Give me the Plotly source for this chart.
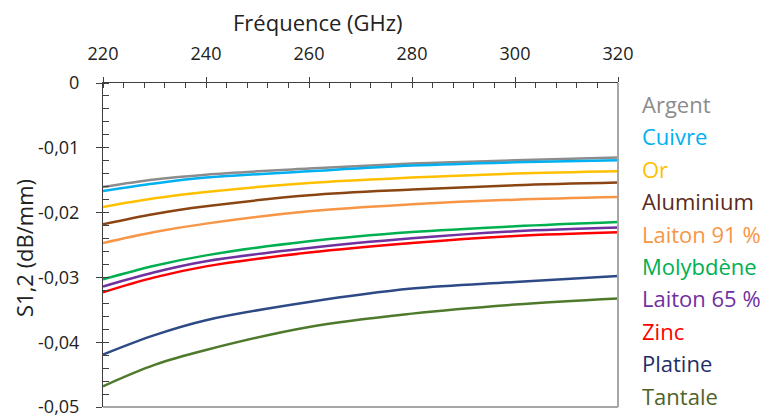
import plotly.graph_objects as go

# ---- data ----
freq = [220, 230, 240, 260, 280, 300, 320]

argent = [-0.01605, -0.01490, -0.01414, -0.01321, -0.01244, -0.01193, -0.01151]
cuivre = [-0.01667, -0.01550, -0.01460, -0.01363, -0.01275, -0.01224, -0.01193]
or_ = [-0.01914, -0.01780, -0.01682, -0.01543, -0.01460, -0.01398, -0.01363]
aluminium = [-0.02180, -0.02020, -0.01903, -0.01733, -0.01645, -0.01579, -0.01537]
laiton91 = [-0.02470, -0.02300, -0.02170, -0.01980, -0.01872, -0.01800, -0.01759]
molybdene = [-0.03030, -0.02820, -0.02660, -0.02443, -0.02300, -0.02211, -0.02145]
laiton65 = [-0.03140, -0.02920, -0.02750, -0.02546, -0.02397, -0.02289, -0.02231]
zinc = [-0.03230, -0.03000, -0.02830, -0.02617, -0.02469, -0.02361, -0.02304]
platine = [-0.04190, -0.03890, -0.03660, -0.03380, -0.03173, -0.03071, -0.02978]
tantale = [-0.04680, -0.04350, -0.04120, -0.03765, -0.03559, -0.03420, -0.03327]

names = ["Argent", "Cuivre", "Or", "Aluminium", "Laiton 91 %", "Molybdène",
         "Laiton 65 %", "Zinc", "Platine", "Tantale"]
series = [argent, cuivre, or_, aluminium, laiton91, molybdene, laiton65,
          zinc, platine, tantale]
line_colors = ["#8C8C8C", "#00B0F0", "#FFC000", "#8B4513", "#F79646",
               "#00B050", "#7030A0", "#FF0000", "#2E4A86", "#4F7A2C"]
text_colors = ["#8C8C8C", "#00B0F0", "#FFC000", "#5B2A1A", "#F79646",
               "#00B050", "#7030A0", "#FF0000", "#1F2F66", "#4F6228"]

x_ticks = [220, 240, 260, 280, 300, 320]
y_ticks = [0, -0.01, -0.02, -0.03, -0.04, -0.05]
y_ticktext = ["0", "-0,01", "-0,02", "-0,03", "-0,04", "-0,05"]

x_title = "Fréquence (GHz)"
y_title = "S1,2 (dB/mm)"

FONT = "Open Sans"
AX = "#404040"

# ---- figure geometry (pixels) ----
W, H = 766, 416
L, R, T, B = 103, 148, 83, 9
pw, ph = W - L - R, H - T - B

fig = go.Figure()
for name, ys, col in zip(names, series, line_colors):
    fig.add_trace(go.Scatter(x=freq, y=ys, mode="lines", name=name,
                             line=dict(color=col, width=2.5, shape="spline",
                                       smoothing=1.0),
                             showlegend=False, hoverinfo="x+y+name"))
# helper trace so the overlay axes (inside major ticks) exist
fig.add_trace(go.Scatter(x=[], y=[], xaxis="x2", yaxis="y2", showlegend=False,
                         hoverinfo="skip"))

common = dict(showgrid=False, zeroline=False, automargin=False)
fig.update_layout(
    width=W, height=H,
    margin=dict(l=L, r=R, t=T, b=B),
    paper_bgcolor="white", plot_bgcolor="white",
    font=dict(family=FONT, color=AX),
    xaxis=dict(range=[220, 320], side="top", tickvals=x_ticks,
               ticks="outside", ticklen=5, tickwidth=1, tickcolor=AX,
               showline=True, linecolor=AX, linewidth=1,
               minor=dict(dtick=4, tick0=220, ticks="inside", ticklen=5,
                          tickwidth=1, tickcolor=AX),
               tickfont=dict(size=18, color="#222222", family=FONT),
               ticklabelstandoff=10, ticklabeloverflow="allow", **common),
    yaxis=dict(range=[-0.05, 0], tickvals=y_ticks, ticktext=y_ticktext,
               ticks="outside", ticklen=6, tickwidth=1, tickcolor=AX,
               showline=True, linecolor=AX, linewidth=1,
               minor=dict(dtick=0.002, tick0=0, ticks="inside", ticklen=6,
                          tickwidth=1, tickcolor=AX),
               tickfont=dict(size=18, color="#222222", family=FONT),
               ticklabelstandoff=13, ticklabeloverflow="allow", **common),
    xaxis2=dict(range=[220, 320], overlaying="x", side="top", anchor="y2",
                tickvals=x_ticks, ticks="inside", ticklen=5, tickwidth=1,
                tickcolor=AX, showticklabels=False, showline=False, **common),
    yaxis2=dict(range=[-0.05, 0], overlaying="y", side="left", anchor="x2",
                tickvals=y_ticks, ticks="inside", ticklen=6, tickwidth=1,
                tickcolor=AX, showticklabels=False, showline=False, **common),
)

# right / bottom frame (grey)
fig.add_shape(type="line", xref="paper", yref="paper", x0=1, x1=1, y0=0, y1=1,
              line=dict(color="#A6A6A6", width=2))
fig.add_shape(type="line", xref="paper", yref="paper", x0=0, x1=1, y0=0, y1=0,
              line=dict(color="#A6A6A6", width=2))

def px_to_paper_x(px):
    return (px - L) / pw

def px_to_paper_y(py):
    return 1 - (py - T) / ph

# axis titles
fig.add_annotation(text=x_title, xref="paper", yref="paper",
                   x=px_to_paper_x(318), y=px_to_paper_y(22),
                   xanchor="center", yanchor="middle", showarrow=False,
                   font=dict(size=22, color="#222222", family=FONT))
fig.add_annotation(text=y_title, xref="paper", yref="paper",
                   x=px_to_paper_x(24), y=px_to_paper_y(248), textangle=-90,
                   xanchor="center", yanchor="middle", showarrow=False,
                   font=dict(size=22, color="#222222", family=FONT))

# coloured legend labels
for i, (name, col) in enumerate(zip(names, text_colors)):
    fig.add_annotation(text=name, xref="paper", yref="paper",
                       x=px_to_paper_x(640), y=px_to_paper_y(104 + i * 32.4),
                       xanchor="left", yanchor="middle", showarrow=False,
                       font=dict(size=22, color=col, family=FONT))

fig.write_html("out.html",
               config={"displayModeBar": False},
               post_script="document.body.style.margin='0px';"
                           "document.body.style.overflow='hidden';")
